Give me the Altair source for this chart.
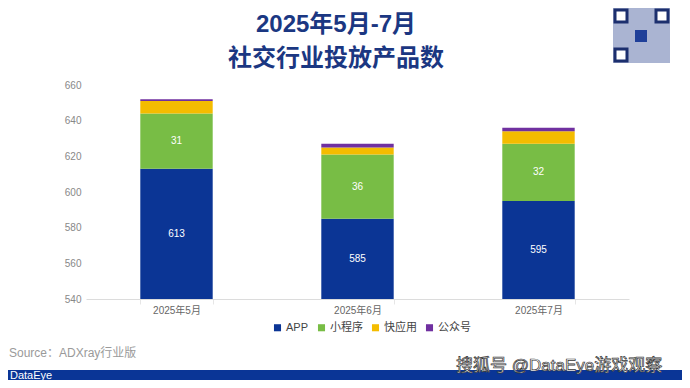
import altair as alt
import pandas as pd

months = ["2025年5月", "2025年6月", "2025年7月"]
series = ["APP", "小程序", "快应用", "公众号"]
app = [613, 585, 595]
mini = [31, 36, 32]
quick = [7, 4, 7]
official = [1, 2, 2]
y_ticks = [540, 560, 580, 600, 620, 640, 660]
colors = ["#0b3595", "#78bd45", "#f4bc00", "#7030a0"]
labelled = ["APP", "小程序"]

Y_MIN, Y_MAX = 540, 660
FONT = "Liberation Sans, Noto Sans CJK SC"

rows = []
for i, m in enumerate(months):
    base = 0
    for k, (s, vals) in enumerate(zip(series, [app, mini, quick, official])):
        v = vals[i]
        lo, hi = base, base + v
        lo_c = max(lo, Y_MIN)
        rows.append(dict(month=m, series=s, value=v, order=k, lo=lo_c, hi=hi,
                         mid=(lo_c + hi) / 2, show=s in labelled))
        base = hi
df = pd.DataFrame(rows)

x_axis = alt.Axis(title=None, labelAngle=0, labelColor="#666666", labelFontSize=10,
                  domainColor="#dcdcdc", tickColor="#e6e6e6", tickSize=5,
                  tickBand="extent", labelPadding=1)
y_axis = alt.Axis(title=None, values=y_ticks, grid=False, domain=False, ticks=False,
                  labelColor="#888888", labelFontSize=10, labelPadding=5,
                  labelOverlap=False, labelFlush=False)
x_scale = alt.Scale(paddingInner=0.6, paddingOuter=0.3)
y_scale = alt.Scale(domain=[Y_MIN, Y_MAX], nice=False, zero=False)

bars = alt.Chart(df).mark_bar().encode(
    x=alt.X("month:N", sort=months, scale=x_scale, axis=x_axis),
    y=alt.Y("lo:Q", scale=y_scale, axis=y_axis),
    y2="hi:Q",
    color=alt.Color("series:N", sort=series,
                    scale=alt.Scale(domain=series, range=colors),
                    legend=alt.Legend(title=None, orient="none", legendX=186, legendY=237,
                                      direction="horizontal", symbolType="square",
                                      symbolSize=50, symbolStrokeWidth=0, labelFontSize=11,
                                      labelColor="#444444", columnPadding=7, labelOffset=3)),
    order=alt.Order("order:Q"),
)

labels = alt.Chart(df).transform_filter("datum.show").mark_text(
    color="white", fontSize=10, baseline="middle"
).encode(
    x=alt.X("month:N", sort=months, scale=x_scale, axis=x_axis),
    y=alt.Y("mid:Q", scale=y_scale, axis=y_axis),
    text="value:Q",
)

one = pd.DataFrame({"a": [0]})

title1 = alt.Chart(one).mark_text(
    text="2025年5月-7月", fontSize=24, fontWeight="bold", color="#1b3782", baseline="middle"
).encode(x=alt.value(250), y=alt.value(-60))
title2 = alt.Chart(one).mark_text(
    text="社交行业投放产品数", fontSize=24, fontWeight="bold", color="#1b3782", baseline="middle"
).encode(x=alt.value(250), y=alt.value(-26))

source = alt.Chart(one).mark_text(
    text="Source：ADXray行业版", fontSize=12, color="#9a9a9a", align="left", baseline="middle"
).encode(x=alt.value(-77), y=alt.value(268))

banner = alt.Chart(one).mark_rect(color="#0a3596").encode(
    x=alt.value(-78), x2=alt.value(596), y=alt.value(285), y2=alt.value(295))
banner_text = alt.Chart(one).mark_text(
    text="DataEye", fontSize=11, color="white", align="left", baseline="middle"
).encode(x=alt.value(-76), y=alt.value(291))

sohu = alt.Chart(one).mark_text(
    text="搜狐号 @DataEye游戏观察", fontSize=17, color="white", stroke="#333333",
    strokeWidth=0.7, align="left", baseline="middle"
).encode(x=alt.value(370), y=alt.value(281))

qr_bg = alt.Chart(one).mark_rect(color="#aab4d2").encode(
    x=alt.value(527), x2=alt.value(584), y=alt.value(-77), y2=alt.value(-22))
qr_f1 = alt.Chart(one).mark_rect(fill="white", stroke="#1c2f6e", strokeWidth=3).encode(
    x=alt.value(529), x2=alt.value(541), y=alt.value(-75), y2=alt.value(-63))
qr_f2 = alt.Chart(one).mark_rect(fill="white", stroke="#1c2f6e", strokeWidth=3).encode(
    x=alt.value(570), x2=alt.value(582), y=alt.value(-75), y2=alt.value(-63))
qr_f3 = alt.Chart(one).mark_rect(fill="white", stroke="#1c2f6e", strokeWidth=3).encode(
    x=alt.value(529), x2=alt.value(541), y=alt.value(-36), y2=alt.value(-24))
qr_c = alt.Chart(one).mark_rect(color="#1f3f99").encode(
    x=alt.value(549), x2=alt.value(561), y=alt.value(-55), y2=alt.value(-43))

chart = alt.layer(
    bars, labels, title1, title2, source, banner, banner_text, sohu,
    qr_bg, qr_f1, qr_f2, qr_f3, qr_c
).properties(
    width=543, height=214,
    padding={"left": 78, "top": 77, "right": 53, "bottom": 81},
    autosize=alt.AutoSizeParams(type="none"),
).configure(font=FONT).configure_view(stroke=None)

chart.save("out.html", embed_options={"renderer": "svg", "actions": False})
